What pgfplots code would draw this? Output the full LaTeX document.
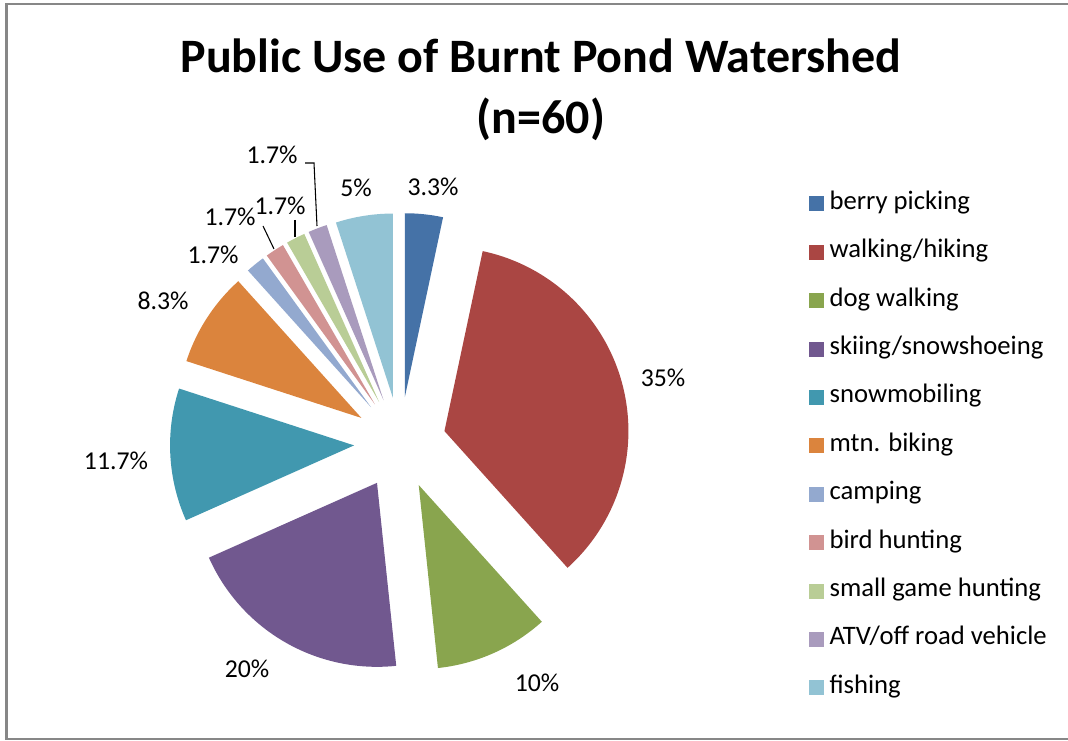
\documentclass[border=0pt]{standalone}
\usepackage{pgfplots}
\pgfplotsset{compat=1.18}
\usepackage{fontspec}
\setmainfont{Carlito}
\definecolor{cBerry}{HTML}{4572A7}
\definecolor{cWalk}{HTML}{AA4643}
\definecolor{cDog}{HTML}{89A54E}
\definecolor{cSki}{HTML}{71588F}
\definecolor{cSnow}{HTML}{4198AF}
\definecolor{cMtn}{HTML}{DB843D}
\definecolor{cCamp}{HTML}{93A9CF}
\definecolor{cBird}{HTML}{D19392}
\definecolor{cGame}{HTML}{B9CD96}
\definecolor{cATV}{HTML}{A99BBD}
\definecolor{cFish}{HTML}{92C3D4}
% pie: centre (400,297) px, radius 184 px, explode 46 px; 60 responses -> 6 deg each
\newcommand\slice[4]{% colour, responses before, responses, legend text
  \pgfmathsetmacro\aS{90-6*(#2)}%
  \pgfmathsetmacro\aE{90-6*(#2+#3)}%
  \pgfmathsetmacro\aM{90-6*(#2+#3/2)}%
  \pgfmathsetmacro\aT{\aS+2}%
  \pgfmathsetmacro\aC{\aS+1}%
  \pgfmathsetmacro\tx{400+46*cos(\aM)}%
  \pgfmathsetmacro\ty{297+46*sin(\aM)}%
  \addplot[fill=#1, draw=none, domain=\aE:\aT, samples=200, variable=\t]
    ({\tx + ((\t<\aC)*184)*cos(min(\t,\aS))},
     {\ty + ((\t<\aC)*184)*sin(min(\t,\aS))});
  \addlegendentry{#4}%
}
\begin{document}
\begin{tikzpicture}
\begin{axis}[
  name=ax,
  scale only axis, width=801pt, height=555pt,
  xmin=0, xmax=1068, ymin=0, ymax=740,
  hide axis, clip=false,
  legend cell align=left,
  legend image code/.code={\fill[#1] (0pt,-5.6pt) rectangle (11.25pt,5.6pt);},
  legend style={draw=none, fill=none, at={(axis cs:805,551)}, anchor=north west,
    font=\fontsize{20}{20}\selectfont, row sep=18.3pt,
    nodes={inner sep=0pt, text height=13pt, text depth=5pt, anchor=west},
    /tikz/every odd column/.append style={column sep=4pt}},
]
\slice{cBerry}{0}{2}{berry picking}
\slice{cWalk}{2}{21}{walking/hiking}
\slice{cDog}{23}{6}{dog walking}
\slice{cSki}{29}{12}{skiing/snowshoeing}
\slice{cSnow}{41}{7}{snowmobiling}
\slice{cMtn}{48}{5}{mtn. biking}
\slice{cCamp}{53}{1}{camping}
\slice{cBird}{54}{1}{bird hunting}
\slice{cGame}{55}{1}{small game hunting}
\slice{cATV}{56}{1}{ATV/off road vehicle}
\slice{cFish}{57}{3}{fishing}
% title
\node[font=\bfseries\fontsize{36}{46}\selectfont, align=center] at (axis cs:541,650) {Public Use of Burnt Pond Watershed\\(n=60)};
% data labels
\begin{scope}[every node/.style={font=\fontsize{19.3}{19.3}\selectfont, inner sep=0pt}]
\node at (axis cs:433,553) {3.3\%};
\node at (axis cs:663,362) {35\%};
\node at (axis cs:537,57) {10\%};
\node at (axis cs:247,71) {20\%};
\node at (axis cs:116,279) {11.7\%};
\node at (axis cs:163,439) {8.3\%};
\node at (axis cs:213,485) {1.7\%};
\node at (axis cs:230,523) {1.7\%};
\node at (axis cs:280,534) {1.7\%};
\node at (axis cs:272,585) {1.7\%};
\node at (axis cs:356,552) {5\%};
\end{scope}
% leader lines
\draw[black, line width=0.8pt] (axis cs:263,514) -- (axis cs:274,491);
\draw[black, line width=0.8pt] (axis cs:295,520) -- (axis cs:295,503);
\draw[black, line width=0.8pt] (axis cs:305,577) -- (axis cs:314,577) -- (axis cs:317,514);
% chart frame
\draw[color=black!47, line width=1.5pt] (axis cs:1068,735.5) -- (axis cs:6.5,735.5) -- (axis cs:6.5,1.5) -- (axis cs:1068,1.5);
\end{axis}
\pgfresetboundingbox
\path[use as bounding box] (ax.south west) rectangle (ax.north east);
\end{tikzpicture}
\end{document}
